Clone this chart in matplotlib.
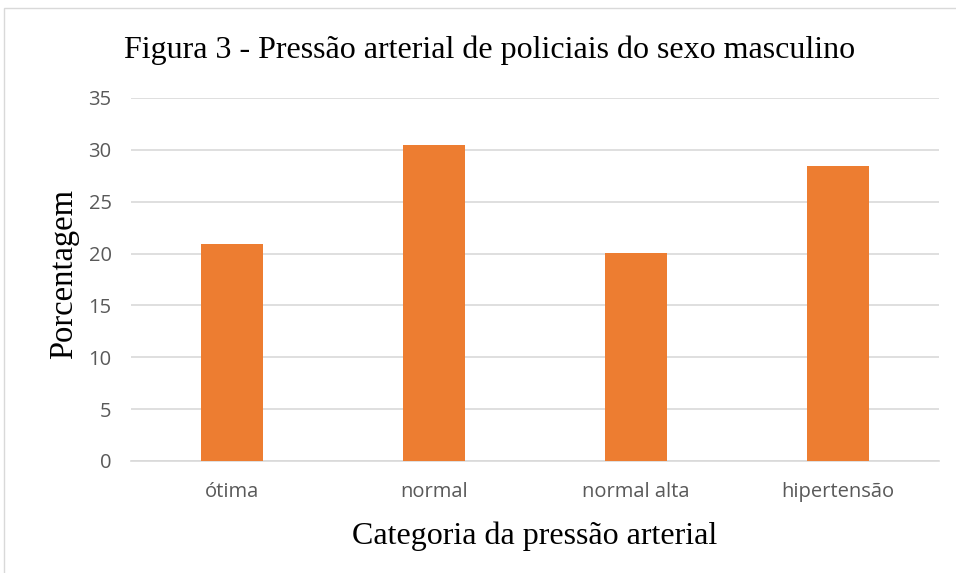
import matplotlib.pyplot as plt
from matplotlib.patches import Rectangle

# Dados do gráfico
categorias = ['ótima', 'normal', 'normal alta', 'hipertensão']
porcentagens = [20.9, 30.5, 20.1, 28.4]
yticks = [0, 5, 10, 15, 20, 25, 30, 35]

fig = plt.figure(figsize=(9.56, 5.73), dpi=100)
ax = fig.add_axes([0.137, 0.1955, 0.845, 0.6335])

ax.bar(range(len(categorias)), porcentagens, width=0.31, color='#ED7D31', zorder=3)

ax.set_xlim(-0.5, len(categorias) - 0.5)
ax.set_ylim(0, 35)
ax.set_yticks(yticks)
ax.set_xticks(range(len(categorias)))
ax.set_xticklabels(categorias)
ax.grid(axis='y', color='#d9d9d9', linewidth=1.2, zorder=0)
for s in ['top', 'right', 'left']:
    ax.spines[s].set_visible(False)
ax.spines['bottom'].set_color('#d9d9d9')
ax.spines['bottom'].set_linewidth(1.2)
ax.tick_params(length=0, labelsize=14.5, labelcolor='#595959')
ax.tick_params(axis='x', pad=15)
ax.tick_params(axis='y', pad=14)
for lbl in ax.get_xticklabels() + ax.get_yticklabels():
    lbl.set_family('Open Sans')

ax.set_xlabel('Categoria da pressão arterial', family='Liberation Serif',
              fontsize=23, labelpad=14)
ax.set_ylabel('Porcentagem', family='Liberation Serif', fontsize=23.5)
ax.yaxis.set_label_coords(-0.064, 0.515)
fig.text(0.512, 0.913, 'Figura 3 - Pressão arterial de policiais do sexo masculino',
         family='Liberation Serif', fontsize=23, ha='center', va='center')

# moldura do gráfico
fig.patches.append(Rectangle((4 / 956, -0.01), 1.0, 1 - 8 / 573 + 0.01,
                             transform=fig.transFigure, fill=False,
                             edgecolor='#d9d9d9', linewidth=1))

fig.savefig('out.png', dpi=100)
